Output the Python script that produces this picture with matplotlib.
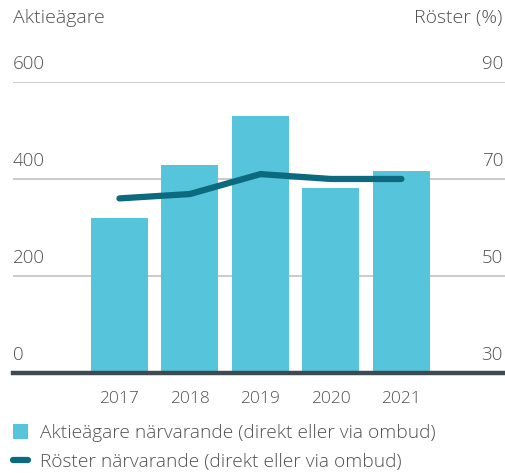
import numpy as np
import matplotlib.pyplot as plt

years = ["2017", "2018", "2019", "2020", "2021"]
aktieagare = [320, 429, 530, 382, 417]
roster = [66.0, 66.9, 71.0, 70.0, 70.0]

left_ticks = [0, 200, 400, 600]
right_ticks = [30, 50, 70, 90]

bar_color = "#56c4da"
line_color = "#0b6a7e"
text_color = "#505050"
grid_color = "#c4c7c8"

plt.rcParams["font.family"] = ["Open Sans", "DejaVu Sans"]
plt.rcParams["font.weight"] = "light"

fig = plt.figure(figsize=(5.06, 4.73), dpi=100)
ax = fig.add_axes([13 / 506, 99.7 / 473, 492 / 506, (373.3 - 81.8) / 473])
ax2 = ax.twinx()

x = np.arange(len(years))
bars = ax.bar(x, aktieagare, width=0.81, color=bar_color, zorder=2)
ax.set_ylim(0, 600)
ax.set_xlim(-1.51, 5.47)

for t in left_ticks[1:]:
    ax.axhline(t, color=grid_color, lw=1.3, zorder=1)
ax.axhline(0, color="#3f4950", lw=3.2, zorder=3, clip_on=False)

(line,) = ax2.plot(x, roster, color=line_color, lw=4.5, solid_capstyle="round",
                   solid_joinstyle="round", zorder=4)
ax2.set_ylim(30, 90)
ax.set_zorder(ax2.get_zorder() - 1)
ax2.patch.set_visible(False)

for a in (ax, ax2):
    for s in a.spines.values():
        s.set_visible(False)
    a.set_yticks([])

ax.set_xticks(x)
ax.set_xticklabels(years)
ax.tick_params(axis="x", length=0, pad=13, labelsize=12.5, labelcolor=text_color)

# axis value labels above gridlines
for lt, rt in zip(left_ticks, right_ticks):
    ax.annotate(str(lt), xy=(0, lt), xycoords=("axes fraction", "data"),
                xytext=(0, 9), textcoords="offset pixels", ha="left", va="bottom",
                fontsize=13.5, color=text_color)
    ax2.annotate(str(rt), xy=(1, rt), xycoords=("axes fraction", "data"),
                 xytext=(-2, 9), textcoords="offset pixels", ha="right", va="bottom",
                 fontsize=13.5, color=text_color)

fig.text(13 / 506, 1 - 18 / 473, "Aktieägare", ha="left", va="center",
         fontsize=14, color=text_color)
fig.text(502 / 506, 1 - 18 / 473, "Röster (%)", ha="right", va="center",
         fontsize=14, color=text_color)

fig.legend([bars, line],
           ["Aktieägare närvarande (direkt eller via ombud)",
            "Röster närvarande (direkt eller via ombud)"],
           loc="upper left", bbox_to_anchor=(13 / 506, 1 - 424 / 473),
           frameon=False, borderpad=0, borderaxespad=0,
           handlelength=0.8, handleheight=0.8, handletextpad=0.6,
           labelspacing=0.55, fontsize=13.8, labelcolor=text_color)

fig.savefig("out.png", dpi=100)
